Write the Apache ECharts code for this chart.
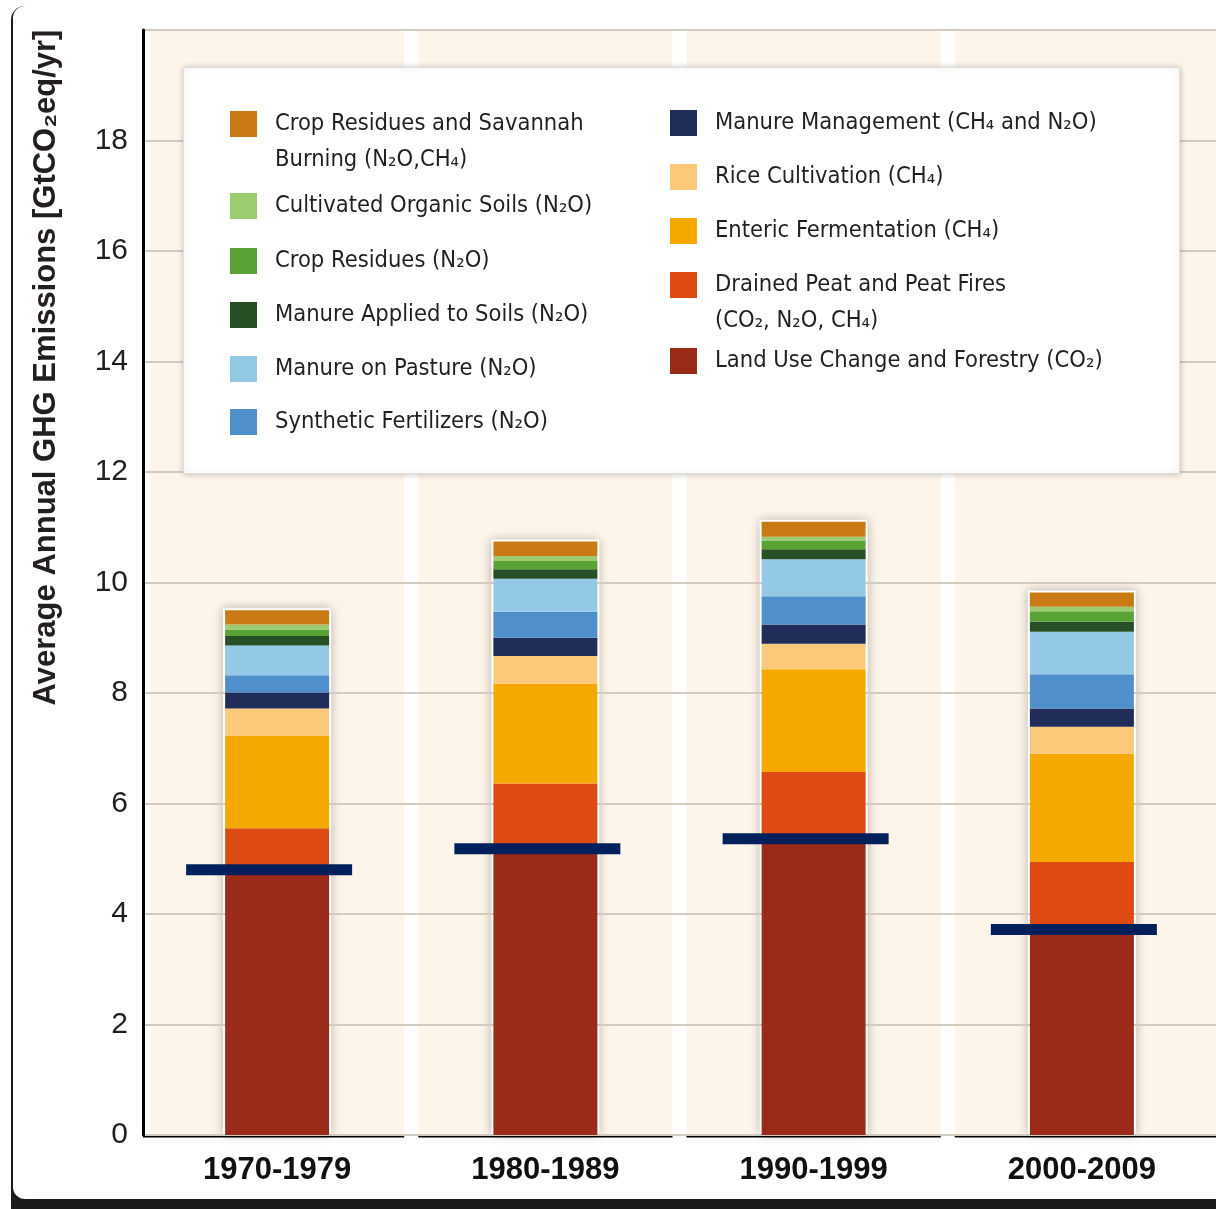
<!DOCTYPE html>
<html>
<head>
<meta charset="utf-8">
<script src="https://cdn.jsdelivr.net/npm/echarts@6/dist/echarts.min.js"></script>
<style>
html,body{margin:0;padding:0;background:#fff;}
#chart{width:1216px;height:1209px;}
</style>
</head>
<body>
<div id="chart"></div>
<script>
// ---- data ----
const categories = ['1970-1979', '1980-1989', '1990-1999', '2000-2009'];
const landUse       = [4.75, 5.12, 5.32, 3.68];
const drainedPeat   = [0.80, 1.24, 1.25, 1.26];
const enteric       = [1.67, 1.81, 1.86, 1.96];
const rice          = [0.50, 0.50, 0.46, 0.49];
const manureMgmt    = [0.29, 0.33, 0.35, 0.33];
const synthetic     = [0.31, 0.47, 0.51, 0.62];
const pasture       = [0.54, 0.60, 0.67, 0.77];
const manureApplied = [0.17, 0.17, 0.18, 0.18];
const cropResidues  = [0.12, 0.15, 0.16, 0.19];
const organicSoils  = [0.09, 0.09, 0.07, 0.08];
const burning       = [0.26, 0.26, 0.27, 0.26];
const refLine       = [4.80, 5.18, 5.36, 3.72];

const seriesDefs = [
  {name: 'Land Use Change and Forestry (CO₂)', data: landUse, color: '#9c2a18'},
  {name: 'Drained Peat and Peat Fires\n(CO₂, N₂O, CH₄)', data: drainedPeat, color: '#dd4a12'},
  {name: 'Enteric Fermentation (CH₄)', data: enteric, color: '#f5a900'},
  {name: 'Rice Cultivation (CH₄)', data: rice, color: '#fcc97a'},
  {name: 'Manure Management (CH₄ and N₂O)', data: manureMgmt, color: '#1f2d58'},
  {name: 'Synthetic Fertilizers (N₂O)', data: synthetic, color: '#4f8fcc'},
  {name: 'Manure on Pasture (N₂O)', data: pasture, color: '#93c9e4'},
  {name: 'Manure Applied to Soils (N₂O)', data: manureApplied, color: '#264f25'},
  {name: 'Crop Residues (N₂O)', data: cropResidues, color: '#58a333'},
  {name: 'Cultivated Organic Soils (N₂O)', data: organicSoils, color: '#9dcb6f'},
  {name: 'Crop Residues and Savannah\nBurning (N₂O,CH₄)', data: burning, color: '#c97a14'}
];

const totals = categories.map((c, i) => seriesDefs.reduce((s, d) => s + d.data[i], 0));

const Y_MAX = 20;
const BAR_W = 104;
const MARK_W = 166;
const MARK_SHIFT = -8;
const FONT_LEG = '"DejaVu Sans Condensed", "DejaVu Sans", sans-serif';
const FONT = '"Liberation Sans", Arial, sans-serif';

const chart = echarts.init(document.getElementById('chart'));

function leg(name, x, cy) {
  const twoLine = name.indexOf('\n') >= 0;
  return {
    data: [name], left: x, top: twoLine ? cy - 54 : cy - 18,
    padding: 0, itemWidth: 27, itemHeight: 26, icon: 'rect',
    selectedMode: false, z: 10,
    itemStyle: {borderWidth: 0},
    formatter: n => (n.indexOf('\n') >= 0 ? '\n' + n : n),
    textStyle: {
      fontFamily: FONT_LEG, fontSize: 23.5, lineHeight: 36, color: '#231f20',
      padding: [0, 0, 0, 13]
    }
  };
}

const legends = [
  leg(seriesDefs[10].name, 230, 124),
  leg(seriesDefs[9].name, 230, 206),
  leg(seriesDefs[8].name, 230, 261),
  leg(seriesDefs[7].name, 230, 315),
  leg(seriesDefs[6].name, 230, 369),
  leg(seriesDefs[5].name, 230, 422),
  leg(seriesDefs[4].name, 670, 123),
  leg(seriesDefs[3].name, 670, 177),
  leg(seriesDefs[2].name, 670, 231),
  leg(seriesDefs[1].name, 670, 285),
  leg(seriesDefs[0].name, 670, 361)
];

const barSeries = seriesDefs.map(d => ({
  name: d.name, type: 'bar', stack: 'total', barWidth: BAR_W, z: 2,
  itemStyle: {color: d.color},
  emphasis: {disabled: true},
  data: d.data
}));

const option = {
  backgroundColor: '#ffffff',
  animation: false,
  graphic: [
    {type: 'rect', left: 11, top: 6, z: -20, silent: true,
     shape: {width: 1205, height: 1203, r: [14, 0, 0, 0]}, style: {fill: '#1b1b1b'}},
    {type: 'rect', left: 13, top: 6, z: -19, silent: true,
     shape: {width: 1215, height: 1193, r: 12}, style: {fill: '#ffffff'}},
    {type: 'rect', left: 183, top: 67, z: 5, silent: true,
     shape: {width: 996, height: 406},
     style: {fill: '#ffffff', stroke: '#e2ded8', lineWidth: 1, shadowBlur: 6, shadowColor: 'rgba(0,0,0,0.22)'}}
  ],
  legend: legends,
  grid: {left: 143, right: 0, top: 30, bottom: 74, containLabel: false},
  xAxis: {
    type: 'category', data: categories, z: 1,
    axisLine: {show: false}, axisTick: {show: false}, splitLine: {show: false},
    axisLabel: {fontSize: 31, fontWeight: 'bold', color: '#111', margin: 20, fontFamily: FONT}
  },
  yAxis: {
    type: 'value', min: 0, max: Y_MAX, interval: 2, z: 1,
    axisLine: {show: true, lineStyle: {color: '#000', width: 3}},
    axisTick: {show: false},
    axisLabel: {fontSize: 30, color: '#231f20', margin: 15, fontFamily: FONT,
                formatter: v => (v === Y_MAX ? '' : String(v))},
    splitLine: {lineStyle: {color: '#d2cbc1', width: 2}},
    name: 'Average Annual GHG Emissions [GtCO₂eq/yr]',
    nameLocation: 'middle', nameGap: 81,
    nameTextStyle: {fontSize: 31, fontWeight: 'bold', color: '#231f20', fontFamily: FONT,
                    padding: [0, 0, 0, 430]}
  },
  series: [
    {
      type: 'custom', name: 'panels', z: 0, silent: true,
      encode: {x: 0, y: 1},
      data: categories.map((c, i) => [i, totals[i]]),
      renderItem: function (params, api) {
        const i = api.value(0);
        const base = api.coord([i, 0]);
        const top = api.coord([i, Y_MAX]);
        const tot = api.coord([i, api.value(1)]);
        const bw = api.size([1, 0])[0];
        const last = params.dataIndex === categories.length - 1;
        const x0 = base[0] - bw / 2 + 7;
        const x1 = base[0] + bw / 2 - (last ? 0 : 7);
        return {
          type: 'group',
          children: [
            {type: 'rect', shape: {x: x0, y: top[1], width: x1 - x0, height: base[1] - top[1]},
             style: {fill: '#fdf5ea'}},
            {type: 'line', shape: {x1: base[0] - bw / 2 + (params.dataIndex === 0 ? 0 : 7), y1: base[1] + 1, x2: x1, y2: base[1] + 1},
             style: {stroke: '#000', lineWidth: 3}},
            {type: 'rect', shape: {x: tot[0] - BAR_W / 2 - 2, y: tot[1] - 2, width: BAR_W + 4, height: base[1] - tot[1] + 2},
             style: {fill: '#ffffff', shadowBlur: 10, shadowColor: 'rgba(0,0,0,0.28)'}}
          ]
        };
      }
    },
    ...barSeries,
    {
      type: 'custom', name: 'reference', z: 3, silent: true,
      encode: {x: 0, y: 1},
      data: refLine.map((v, i) => [i, v]),
      renderItem: function (params, api) {
        const c = api.coord([api.value(0), api.value(1)]);
        return {type: 'rect', shape: {x: c[0] - MARK_W / 2 + MARK_SHIFT, y: c[1] - 5.5, width: MARK_W, height: 11},
                style: {fill: '#00205b'}};
      }
    }
  ]
};
chart.setOption(option);
</script>
</body>
</html>
